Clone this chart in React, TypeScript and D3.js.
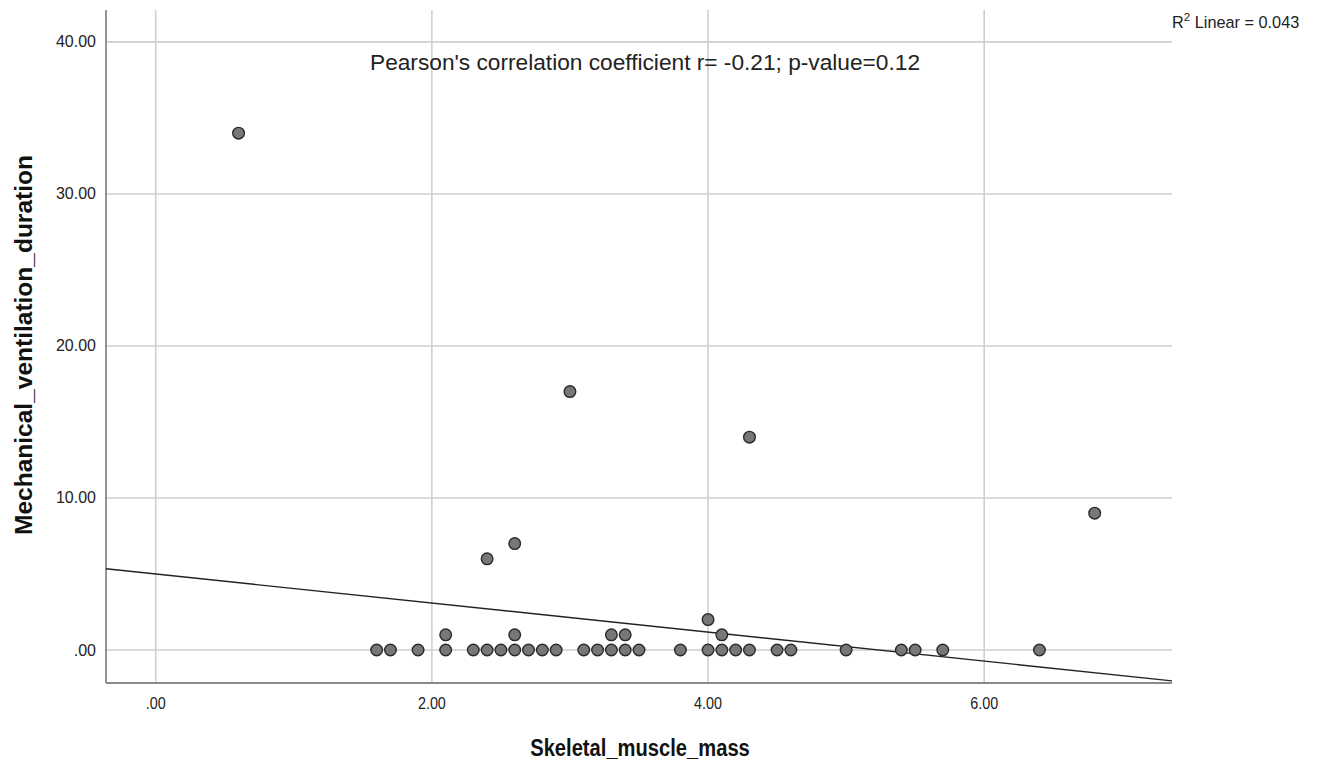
import React from "react";
import * as d3 from "d3";

const xValues = [0.6, 1.6, 1.7, 1.9, 2.1, 2.1, 2.3, 2.4, 2.4, 2.5, 2.6, 2.6, 2.6, 2.7, 2.8, 2.9, 3.0, 3.1, 3.2, 3.3, 3.3, 3.4, 3.4, 3.5, 3.8, 4.0, 4.0, 4.1, 4.1, 4.2, 4.3, 4.3, 4.5, 4.6, 5.0, 5.4, 5.5, 5.7, 6.4, 6.8];
const yValues = [34, 0, 0, 0, 0, 1, 0, 0, 6, 0, 0, 1, 7, 0, 0, 0, 17, 0, 0, 0, 1, 0, 1, 0, 0, 0, 2, 0, 1, 0, 0, 14, 0, 0, 0, 0, 0, 0, 0, 9];
const xTicks = [0, 2, 4, 6];
const yTicks = [0, 10, 20, 30, 40];
// fit line coefficients as shown in the reference (linear fit)
const fitIntercept = 5.0;
const fitSlope = -0.955;
const xTitle = "Skeletal_muscle_mass";
const yTitle = "Mechanical_ventilation_duration";
const annotation = "Pearson's correlation coefficient r= -0.21; p-value=0.12";
const fitLabel = "Linear = 0.043";

const fmt = (v: number) => {
  const s = v.toFixed(2);
  return s.startsWith("0") ? s.slice(1) : s;
};

export default function App() {
  const W = 1318, H = 762;
  const left = 106, right = 1172, top = 10, bottom = 683;
  const x = d3.scaleLinear().domain([-0.36, 7.36]).range([left, right]);
  const y = d3.scaleLinear().domain([-2.17, 42.1]).range([bottom, top]);

  const [d0, d1] = x.domain();
  const line = d3.line<number>().x((d) => x(d)).y((d) => y(fitIntercept + fitSlope * d));

  const font = "'Liberation Sans', Arial, sans-serif";

  return (
    <svg width={W} height={H} style={{ position: "absolute", left: 0, top: 0, background: "#fff" }} fontFamily={font}>
      <rect width={W} height={H} fill="#fff" />
      {xTicks.map((t) => (
        <line key={"gx" + t} x1={x(t)} x2={x(t)} y1={top} y2={bottom} stroke="#cfcfcf" strokeWidth={1.6} />
      ))}
      {yTicks.map((t) => (
        <line key={"gy" + t} x1={left} x2={right} y1={y(t)} y2={y(t)} stroke="#cfcfcf" strokeWidth={1.6} />
      ))}
      <line x1={left} x2={left} y1={top} y2={bottom} stroke="#8a8a8a" strokeWidth={1.8} />
      <line x1={left} x2={right} y1={bottom} y2={bottom} stroke="#8a8a8a" strokeWidth={1.8} />
      {xTicks.map((t) => (
        <text key={"tx" + t} transform={`translate(${x(t)},709) scale(0.87,1)`} textAnchor="middle" fontSize={16.5} fill="#222">
          {fmt(t)}
        </text>
      ))}
      {yTicks.map((t) => (
        <text key={"ty" + t} x={96} y={y(t) + 5.5} textAnchor="end" fontSize={16} fill="#222">
          {fmt(t)}
        </text>
      ))}
      <text transform="translate(640,756) scale(0.84,1)" textAnchor="middle" fontSize={24} fontWeight="bold" fill="#111">
        {xTitle}
      </text>
      <text transform={`translate(32,345) rotate(-90)`} textAnchor="middle" fontSize={24.5} fontWeight="bold" fill="#111">
        {yTitle}
      </text>
      <path d={line([d0, d1]) || ""} fill="none" stroke="#222" strokeWidth={1.4} />
      {xValues.map((v, i) => (
        <circle key={i} cx={x(v)} cy={y(yValues[i])} r={5.8} fill="#777" stroke="#2a2a2a" strokeWidth={1.4} />
      ))}
      <text x={645} y={70} textAnchor="middle" fontSize={22.7} fill="#222">
        {annotation}
      </text>
      <text x={1172} y={28} fontSize={16.3} fill="#222">
        R<tspan dy={-7} fontSize={11.5}>2</tspan>
        <tspan dy={7}> {fitLabel}</tspan>
      </text>
    </svg>
  );
}
